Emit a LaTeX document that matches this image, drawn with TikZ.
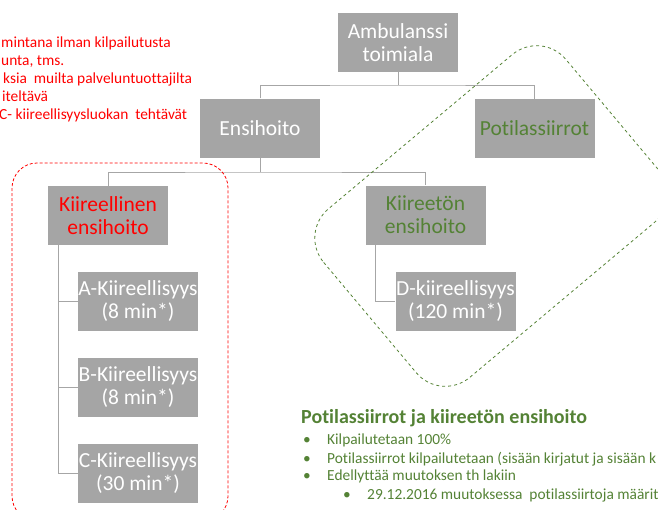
\documentclass[tikz,border=0pt]{standalone}
\usepackage{fontspec}
\setmainfont{Carlito}[Ligatures=CommonOff]
\usetikzlibrary{calc}
\definecolor{boxgray}{HTML}{A5A5A5}
\definecolor{linegray}{HTML}{A6A6A6}
\definecolor{darkgreen}{HTML}{548235}
\begin{document}
\begin{tikzpicture}[x=1pt,y=-1pt,
  box/.style={fill=boxgray,text=white,minimum width=120pt,minimum height=59pt,inner sep=0pt,align=center,font=\fontsize{21.5}{23}\selectfont},
  link/.style={draw=linegray,line width=0.9pt},
  note/.style={anchor=base west,inner sep=0pt,font=\fontsize{15.4}{17}\selectfont}]
\useasboundingbox (0,0) rectangle (658,509);
\clip (0,0) rectangle (658,509);
% boxes
\node[box] (amb) at (398,42.5) {Ambulanssi\\toimiala};
\node[box] (ens) at (260,128) {Ensihoito};
\node[box,text=darkgreen] (pot) at (534.5,128.5) {Potilassiirrot};
\node[box,text=red] (kiir) at (108,215.5) {Kiireellinen\\ensihoito};
\node[box,text=darkgreen] (kiet) at (425.5,215) {Kiireetön\\ensihoito};
\node[box] (a) at (138,301) {A-Kiireellisyys\\(8 min*)};
\node[box] (b) at (138,387.5) {B-Kiireellisyys\\(8 min*)};
\node[box] (c) at (138,473.5) {C-Kiireellisyys\\(30 min*)};
\node[box] (d) at (455.5,301.5) {D-kiireellisyys\\(120 min*)};
% connectors
\coordinate (j1) at (398,85);
\coordinate (j2) at (260,172);
\draw[link] (amb.south) -- (j1);
\draw[link] (ens.north) |- (j1) -| (pot.north);
\draw[link] (ens.south) -- (j2);
\draw[link] (kiir.north) |- (j2) -| (kiet.north);
\coordinate (ks) at ($(kiir.south west)+(11,0)$);
\draw[link] (ks) |- (a.west);
\draw[link] (ks) |- (b.west);
\draw[link] (ks) |- (c.west);
\coordinate (ds) at ($(kiet.south west)+(10,0)$);
\draw[link] (ds) |- (d.west);
% groups
\draw[red,line width=0.8pt,dash pattern=on 3pt off 2pt,rounded corners=25pt] (12,163) rectangle (228,521);
\draw[darkgreen,line width=0.8pt,dash pattern=on 3pt off 3pt,rounded corners=38pt,rotate around={40:(491,216)}] (333,106) rectangle (649,326);
% red notes (cut at the left)
\begin{scope}[every node/.style={note,text=red}]
\node (r1) at (1,47) {mintana ilman kilpailutusta};
\node (r2) at (1,65) {unta, tms.};
\node (r3) at (3,83) {ksia\ \ muilta palveluntuottajilta};
\node (r4) at (2,101) {iteltävä};
\node (r5) at (-1,119) {C- kiireellisyysluokan\ \ tehtävät};
\end{scope}
% green notes
\node[note,text=darkgreen,font=\bfseries\fontsize{20}{22}\selectfont] (gt) at (301,423) {Potilassiirrot ja kiireetön ensihoito};
\begin{scope}[every node/.style={note,text=darkgreen}]
\foreach \yy/\txt [count=\i] in {444/Kilpailutetaan 100\%,463/{Potilassiirrot\ kilpailutetaan (sisään kirjatut ja sisään k},480/Edellyttää muutoksen th lakiin}{
  \node (gb\i) at (303,\yy) {•};
  \node (g\i) at (327,\yy) {\txt};
}
\node (gb4) at (343,499) {•};
\node (g4) at (367,499) {29.12.2016 muutoksessa\ \ potilassiirtoja määrit};
\end{scope}
\end{tikzpicture}
\end{document}
